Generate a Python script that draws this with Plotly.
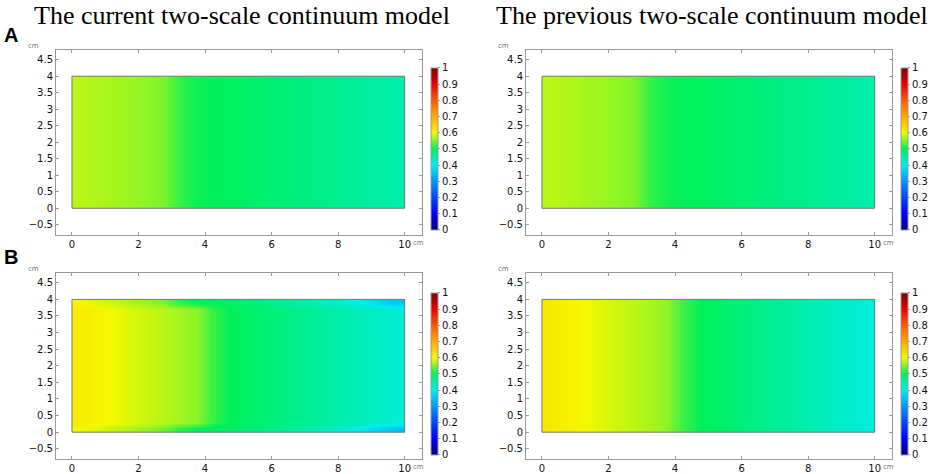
import plotly.graph_objects as go

x_cm = [0.25, 0.75, 1.25, 1.75, 2.25, 2.75, 3.25, 3.75, 4.25, 4.75,
        5.25, 5.75, 6.25, 6.75, 7.25, 7.75, 8.25, 8.75, 9.25, 9.75]

# A: current model / previous model
a_current = [0.575, 0.571, 0.567, 0.563, 0.558, 0.55, 0.52, 0.505, 0.5, 0.496,
             0.491, 0.486, 0.481, 0.476, 0.471, 0.466, 0.461, 0.456, 0.451, 0.446]
a_previous = [0.576, 0.572, 0.568, 0.564, 0.559, 0.551, 0.521, 0.506, 0.501, 0.497,
              0.492, 0.487, 0.482, 0.477, 0.472, 0.467, 0.462, 0.457, 0.452, 0.447]

# B: current model (interior and edge rows) / previous model
b_current = [0.615, 0.606, 0.598, 0.59, 0.582, 0.575, 0.566, 0.556, 0.522, 0.5,
             0.493, 0.485, 0.476, 0.467, 0.459, 0.451, 0.443, 0.435, 0.427, 0.42]
b_current_edge = [0.6, 0.59, 0.58, 0.57, 0.56, 0.545, 0.515, 0.5, 0.494, 0.488,
                  0.48, 0.471, 0.462, 0.451, 0.44, 0.428, 0.413, 0.395, 0.372, 0.35]
b_previous = [0.618, 0.609, 0.601, 0.592, 0.584, 0.576, 0.568, 0.558, 0.524, 0.501,
              0.493, 0.483, 0.474, 0.465, 0.456, 0.447, 0.438, 0.43, 0.422, 0.414]

cbar_ticks = [0, 0.1, 0.2, 0.3, 0.4, 0.5, 0.6, 0.7, 0.8, 0.9, 1]
x_ticks = [0, 2, 4, 6, 8, 10]
y_ticks = [-0.5, 0, 0.5, 1, 1.5, 2, 2.5, 3, 3.5, 4, 4.5]

titles = ["The current two-scale continuum model", "The previous two-scale continuum model"]

rainbow = [
    [0.0, "rgb(0,0,130)"], [0.1, "rgb(0,0,255)"], [0.2, "rgb(0,70,255)"],
    [0.3, "rgb(0,150,255)"], [0.4, "rgb(0,238,240)"], [0.5, "rgb(0,240,90)"],
    [0.6, "rgb(245,248,0)"], [0.7, "rgb(255,170,0)"], [0.8, "rgb(255,90,0)"],
    [0.9, "rgb(235,0,0)"], [1.0, "rgb(128,0,0)"],
]

W, H = 941, 474

# panel frames in pixels: (left, right, top, bottom)
frames = [
    (56, 422, 50, 236), (526, 892, 50, 236),
    (56, 422, 274, 461), (526, 892, 274, 461),
]
cbars = [(431, 68, 231), (901, 68, 231), (431, 294, 457), (901, 294, 457)]

y_rows_a = [1, 3]
y_rows_b = [0.1, 0.3, 0.5, 0.7, 0.9, 1.1, 1.3, 1.5, 1.7, 1.9,
            2.1, 2.3, 2.5, 2.7, 2.9, 3.1, 3.3, 3.5, 3.7, 3.9]

fields = [
    (y_rows_a, [a_current, a_current]),
    (y_rows_a, [a_previous, a_previous]),
    (y_rows_b, [b_current_edge] + [b_current] * 18 + [b_current_edge]),
    (y_rows_b, [b_previous] * 20),
]

fig = go.Figure()
layout = {}
for i, ((yr, z), (l, r, t, b), (cx, ct, cb)) in enumerate(zip(fields, frames, cbars)):
    n = "" if i == 0 else str(i + 1)
    fig.add_trace(go.Heatmap(
        x=x_cm, y=yr, z=z, zmin=0, zmax=1, zsmooth="best", colorscale=rainbow,
        xaxis="x" + n, yaxis="y" + n, hoverinfo="skip",
        colorbar=dict(
            x=cx / W, xanchor="left", y=1 - (ct + cb) / 2 / H, yanchor="middle",
            len=(cb - ct) / H, lenmode="fraction", thickness=7, xpad=0, ypad=0,
            outlinecolor="#999", outlinewidth=1, tickvals=cbar_ticks,
            ticks="outside", ticklen=2, tickcolor="#999",
            tickfont=dict(family="DejaVu Sans", size=10, color="#111"),
        ),
    ))
    axstyle = dict(showline=True, linecolor="#999", linewidth=1, mirror="ticks",
                   ticks="inside", ticklen=3, tickcolor="#999", showgrid=False,
                   zeroline=False, tickfont=dict(family="DejaVu Sans", size=10, color="#111"))
    layout["xaxis" + n] = dict(axstyle, domain=[l / W, r / W], range=[-0.48, 10.52],
                               tickvals=x_ticks, anchor="y" + n)
    layout["yaxis" + n] = dict(axstyle, domain=[1 - b / H, 1 - t / H], range=[-0.81, 4.8],
                               tickvals=y_ticks, anchor="x" + n)
    fig.add_shape(type="rect", x0=0, x1=10, y0=0, y1=4, xref="x" + n, yref="y" + n,
                  line=dict(color="#777", width=1))
    # unit labels
    fig.add_annotation(x=(l - 23) / W, y=1 - (t - 4) / H, xref="paper", yref="paper",
                       text="cm", showarrow=False, xanchor="center", yanchor="middle",
                       font=dict(family="DejaVu Sans", size=7, color="#777"))
    fig.add_annotation(x=(r - 11) / W, y=1 - (b + 8) / H, xref="paper", yref="paper",
                       text="cm", showarrow=False, xanchor="left", yanchor="middle",
                       font=dict(family="DejaVu Sans", size=7, color="#777"))

# titles: left one starts at x=33 px, right one ends at x=929 px, both hang from the top
for txt, px, anchor in zip(titles, [33, 929], ["left", "right"]):
    fig.add_annotation(x=px / W, y=1, xref="paper", yref="paper", text=txt,
                       showarrow=False, xanchor=anchor, yanchor="top", borderpad=0,
                       font=dict(family="Liberation Serif", size=26, color="#000"))

for lab, yy in [("A", 35), ("B", 258)]:
    fig.add_annotation(x=11 / W, y=1 - yy / H, xref="paper", yref="paper", text="<b>%s</b>" % lab,
                       showarrow=False, xanchor="center", yanchor="middle",
                       font=dict(family="Liberation Sans", size=20, color="#000"))

fig.update_layout(width=W, height=H, margin=dict(l=0, r=0, t=0, b=0),
                  paper_bgcolor="white", plot_bgcolor="white", showlegend=False, **layout)
# drop the browser's default body margin so the figure sits at the window corner
fig.write_html("out.html", config={"displayModeBar": False},
               post_script="document.body.style.margin='0';")
